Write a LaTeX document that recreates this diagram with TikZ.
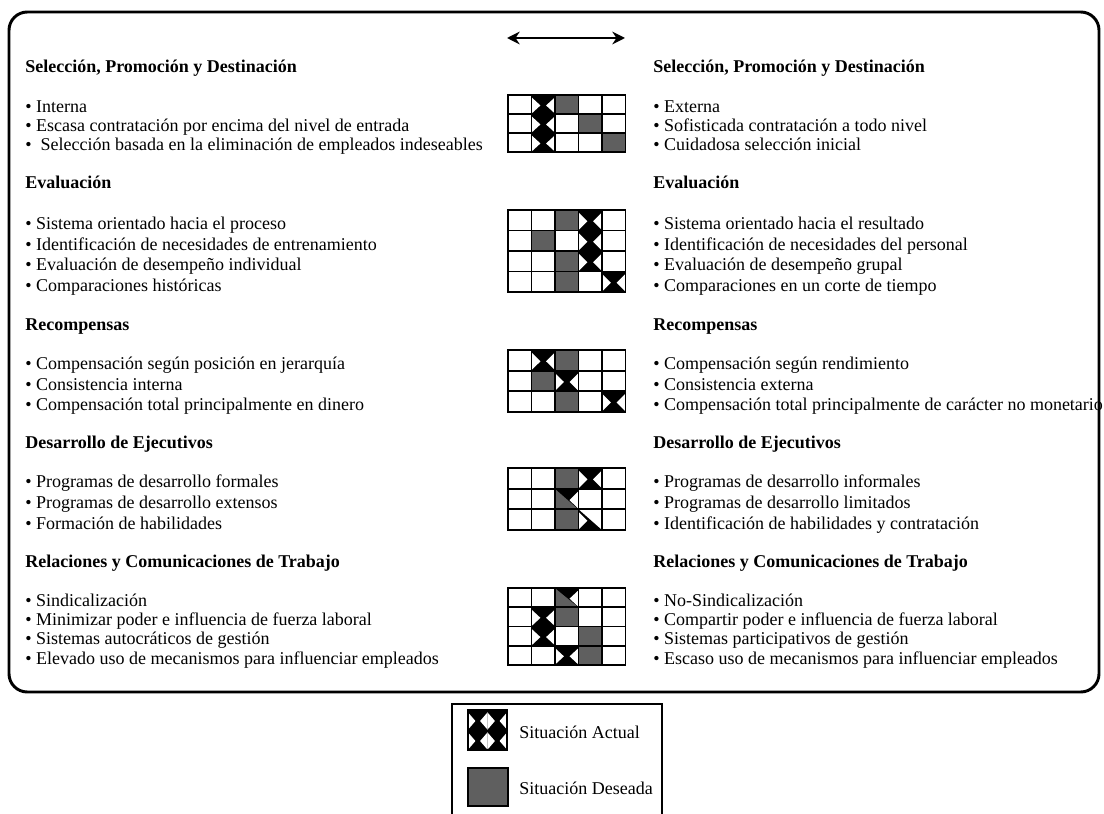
\documentclass[tikz,border=0pt]{standalone}
\usepackage{fontspec}
\setmainfont{Liberation Serif}
\usetikzlibrary{arrows.meta,positioning}
\definecolor{deseada}{RGB}{95,95,95}

\tikzset{
  heading/.style={anchor=base west, inner sep=0pt, font=\fontsize{12.8}{14}\selectfont\bfseries},
  bullet/.style={anchor=base west, inner sep=0pt, font=\fontsize{12.8}{14}\selectfont},
  legtext/.style={anchor=west, inner sep=0pt, font=\fontsize{12.8}{14}\selectfont},
  gridline/.style={line width=1.3pt},
  frame/.style={line width=2.1pt, rounded corners=13pt},
}

% cell width of the small grids
\def\cw{23.5}
% one cell of "situacion actual": black with white lobes
\newcommand{\actcell}[4]{%
  \fill[black] ({#1},{#2}) rectangle ++(#3,#4);
  \begin{scope}
    \clip ({#1},{#2}) rectangle ++(#3,#4);
    \fill[white] ({#1-0.38*#3},{#2+0.55*#4}) -- ({#1},{#2+0.12*#4}) -- ({#1+0.38*#3},{#2+0.55*#4}) -- ({#1},{#2+0.98*#4}) -- cycle;
    \fill[white] ({#1+0.62*#3},{#2+0.55*#4}) -- ({#1+#3},{#2+0.12*#4}) -- ({#1+1.38*#3},{#2+0.55*#4}) -- ({#1+#3},{#2+0.98*#4}) -- cycle;
  \end{scope}}
\newcommand{\act}[2]{\actcell{(#1-1)*\cw}{(#2-1)*\rh}{\cw}{\rh}}
\newcommand{\des}[2]{\fill[deseada] ({(#1-1)*\cw},{(#2-1)*\rh}) rectangle ++(\cw,\rh);}
% upper right half actual
\newcommand{\actur}[2]{%
  \begin{scope}
    \clip ({(#1-1)*\cw},{(#2-1)*\rh}) -- ++(\cw,0) -- ++(0,\rh) -- cycle;
    \act{#1}{#2}
  \end{scope}}
% lower left half actual
\newcommand{\actll}[2]{%
  \begin{scope}
    \clip ({(#1-1)*\cw},{(#2-1)*\rh}) -- ++(0,\rh) -- ++(\cw,0) -- cycle;
    \act{#1}{#2}
  \end{scope}}
\newcommand{\gridlines}[1]{%
  \foreach \i in {1,...,4} \draw[gridline] ({\i*\cw},0) -- ({\i*\cw},{#1*\rh});
  \foreach \j in {1,...,#1} \draw[gridline] (0,{\j*\rh}) -- ({5*\cw},{\j*\rh});
  \draw[gridline] (0,0) rectangle ({5*\cw},{#1*\rh});}

\begin{document}
\begin{tikzpicture}[x=0.025cm, y=-0.025cm]
  \useasboundingbox (0,0) rectangle (1104,814);

  % main frame
  \draw[frame] (9,12) rectangle (1099,692);
  \coordinate (arrL) at (507,38);
  \coordinate (arrR) at (625,38);
  \draw[line width=1.6pt, {Stealth[length=9pt,width=9pt]}-{Stealth[length=9pt,width=9pt]}] (arrL) -- (arrR);

  % Seleccion
  \node[heading] (selL) at (25,73) {Selección, Promoción y Destinación};
  \node[heading] (selR) at (653,73) {Selección, Promoción y Destinación};
  \foreach \t [count=\i] in {Interna, Escasa contratación por encima del nivel de entrada, \ Selección basada en la eliminación de empleados indeseables}
    \node[bullet] (selL\i) at (25,{95+\i*19-1}) {• \t};
  \foreach \t [count=\i] in {Externa, Sofisticada contratación a todo nivel, Cuidadosa selección inicial}
    \node[bullet] (selR\i) at (653,{95+\i*19-1}) {• \t};
  \begin{scope}[shift={(508,95)}]
    \def\rh{19}
    \act{2}{1} \act{2}{2} \act{2}{3}
    \des{3}{1} \des{4}{2} \des{5}{3}
    \gridlines{3}
  \end{scope}

  % Evaluacion
  \node[heading] (evaL) at (25,189) {Evaluación};
  \node[heading] (evaR) at (653,189) {Evaluación};
  \foreach \t [count=\i] in {Sistema orientado hacia el proceso, Identificación de necesidades de entrenamiento, Evaluación de desempeño individual, Comparaciones históricas}
    \node[bullet] (evaL\i) at (25,{210+\i*20.5-1}) {• \t};
  \foreach \t [count=\i] in {Sistema orientado hacia el resultado, Identificación de necesidades del personal, Evaluación de desempeño grupal, Comparaciones en un corte de tiempo}
    \node[bullet] (evaR\i) at (653,{210+\i*20.5-1}) {• \t};
  \begin{scope}[shift={(508,210)}]
    \def\rh{20.5}
    \des{3}{1} \des{2}{2} \des{3}{3} \des{3}{4}
    \act{4}{1} \act{4}{2} \act{4}{3} \act{5}{4}
    \gridlines{4}
  \end{scope}

  % Recompensas
  \node[heading] (recL) at (25,330) {Recompensas};
  \node[heading] (recR) at (653,330) {Recompensas};
  \foreach \t [count=\i] in {Compensación según posición en jerarquía, Consistencia interna, Compensación total principalmente en dinero}
    \node[bullet] (recL\i) at (25,{350+\i*20.6-1}) {• \t};
  \foreach \t [count=\i] in {Compensación según rendimiento, Consistencia externa, Compensación total principalmente de carácter no monetario}
    \node[bullet] (recR\i) at (653,{350+\i*20.6-1}) {• \t};
  \begin{scope}[shift={(508,350)}]
    \def\rh{20.6}
    \act{2}{1} \des{3}{1}
    \des{2}{2} \act{3}{2}
    \des{3}{3} \act{5}{3}
    \gridlines{3}
  \end{scope}

  % Desarrollo de Ejecutivos
  \node[heading] (desL) at (25,448) {Desarrollo de Ejecutivos};
  \node[heading] (desR) at (653,448) {Desarrollo de Ejecutivos};
  \foreach \t [count=\i] in {Programas de desarrollo formales, Programas de desarrollo extensos, Formación de habilidades}
    \node[bullet] (desL\i) at (25,{468+\i*20.7-1}) {• \t};
  \foreach \t [count=\i] in {Programas de desarrollo informales, Programas de desarrollo limitados, Identificación de habilidades y contratación}
    \node[bullet] (desR\i) at (653,{468+\i*20.7-1}) {• \t};
  \begin{scope}[shift={(508,468)}]
    \def\rh{20.7}
    \des{3}{1} \act{4}{1}
    \des{3}{2} \actur{3}{2}
    \des{3}{3} \actll{4}{3}
    \gridlines{3}
  \end{scope}

  % Relaciones y Comunicaciones de Trabajo
  \node[heading] (relL) at (25,567) {Relaciones y Comunicaciones de Trabajo};
  \node[heading] (relR) at (653,567) {Relaciones y Comunicaciones de Trabajo};
  \foreach \t [count=\i] in {Sindicalización, Minimizar poder e influencia de fuerza laboral, Sistemas autocráticos de gestión, Elevado uso de mecanismos para influenciar empleados}
    \node[bullet] (relL\i) at (25,{588+\i*19.25-1}) {• \t};
  \foreach \t [count=\i] in {No-Sindicalización, Compartir poder e influencia de fuerza laboral, Sistemas participativos de gestión, Escaso uso de mecanismos para influenciar empleados}
    \node[bullet] (relR\i) at (653,{588+\i*19.25-1}) {• \t};
  \begin{scope}[shift={(508,588)}]
    \def\rh{19.25}
    \des{3}{1} \actur{3}{1}
    \act{2}{2} \des{3}{2}
    \act{2}{3} \des{4}{3}
    \act{3}{4} \des{4}{4}
    \gridlines{4}
  \end{scope}

  % legend
  \draw[line width=1.3pt] (452,816) -- (452,704) -- (662,704) -- (662,816);
  \actcell{468}{710}{19.5}{20}
  \actcell{487.5}{710}{19.5}{20}
  \actcell{468}{730}{19.5}{20}
  \actcell{487.5}{730}{19.5}{20}
  \draw[line width=1pt] (468,710) rectangle (507,750);
  \fill[deseada] (468,768) rectangle (508,806);
  \draw[line width=1pt] (468,768) rectangle (508,806);
  \node[legtext] (actual) at (519,732) {Situación Actual};
  \node[legtext] (deseada) at (519,788) {Situación Deseada};
\end{tikzpicture}
\end{document}
